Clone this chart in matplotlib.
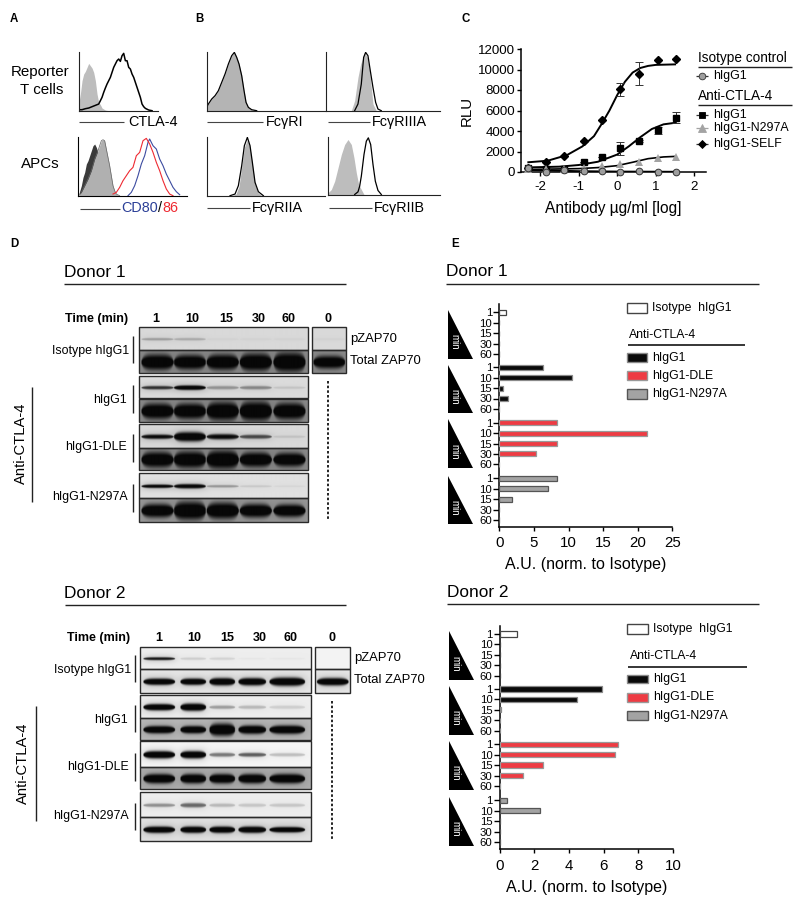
import numpy as np
import matplotlib
matplotlib.use("Agg")
import matplotlib.pyplot as plt
from matplotlib.patches import Polygon, Rectangle

plt.rcParams['font.family'] = ['Liberation Sans', 'DejaVu Sans']
W, H = 800, 902
fig = plt.figure(figsize=(8, 9.02), dpi=100)

# ---------- Panel A / B histograms (channel, count) ----------
ctla_iso_x = [0,5,10,15,20,25,30,35,40,45,50,55,60,65,70,75,80,90]
ctla_iso_y = [20,50,90,110,118,130,142,135,128,115,90,50,25,18,8,5,2,0]
ctla_x = [0,10,20,30,40,50,60,65,70,75,80,85,90,95,100,105,110,115,120,125,130,135,140,145,150,155,160,165,170,175,180,185,190,195,200,210,220]
ctla_y = [3,3,6,8,12,16,20,30,40,55,68,80,90,100,115,130,140,150,155,148,165,172,150,150,130,125,110,100,85,70,55,40,20,12,7,2,0]
apc_dark_x = [4,10,15,20,25,30,35,40,45,50,55,60,70,85]
apc_dark_y = [10,30,55,70,95,105,120,135,150,155,145,130,60,0]
apc_gray_x = [0,10,20,30,40,50,60,70,75,80,85,90,95,100,105,110,115,125]
apc_gray_y = [0,10,30,50,75,110,135,165,168,165,140,115,90,60,30,15,5,0]
cd86_x = [105,115,125,135,145,155,165,175,185,195,205,215,225,235,245,255,265,275,285]
cd86_y = [5,10,25,45,60,75,85,120,130,165,172,155,130,100,75,45,20,5,0]
cd80_x = [150,160,170,180,190,200,210,215,225,235,245,255,265,275,285,295,305]
cd80_y = [0,10,30,60,95,120,160,170,150,140,110,90,65,45,25,12,3]
fc1_x = [0,5,15,25,35,45,55,65,75,83,90,97,105,112,118,125,135,150]
fc1_y = [10,20,35,45,60,85,110,140,165,175,160,140,105,60,25,10,3,0]
fc3a_gray_x = [75,85,95,103,110,115,123,130,135,140,150]
fc3a_gray_y = [0,30,100,140,160,175,160,120,70,20,0]
fc3a_x = [85,95,105,112,118,125,132,140,148,155,165]
fc3a_y = [0,20,80,160,175,165,120,70,25,5,0]
fc2a_gray_x = [75,88,97,105,113,122,130,137,145,153,165]
fc2a_gray_y = [0,5,28,85,145,168,145,95,35,10,0]
fc2a_x = [70,85,95,105,113,122,130,137,145,155,170]
fc2a_y = [0,5,30,90,150,175,150,100,40,12,0]
fc2b_gray_x = [0,10,20,30,40,50,60,70,78,85,92,100,108]
fc2b_gray_y = [5,15,40,80,120,150,165,150,110,65,30,15,0]
fc2b_x = [80,90,95,100,108,115,121,128,135,142,150,160]
fc2b_y = [0,8,25,55,120,160,170,150,90,40,12,0]

# ---------- Panel C ----------
dose_pts = [-2.3,-1.83,-1.37,-0.85,-0.4,0.08,0.57,1.05,1.52]
self_pts = [400,950,1600,3000,5100,8050,9600,10900,11000]
self_err = [0,0,0,0,0,650,1100,0,0]
igg1_pts = [400,300,300,950,1500,2300,3000,4050,5300]
igg1_err = [0,0,0,0,0,600,100,300,550]
n297_pts = [300,250,300,350,550,750,1000,1400,1500]
iso_pts = [350,30,160,100,60,10,100,0,0]
self_fit_x = [-2.3,-1.8,-1.3,-0.9,-0.6,-0.4,-0.2,0,0.2,0.4,0.6,0.8,1,1.5]
self_fit_y = [950,1100,1650,2500,3500,4700,6000,7500,8800,9700,10150,10350,10450,10500]
igg1_fit_x = [-2.3,-1.5,-1,-0.5,0,0.3,0.6,0.9,1.2,1.5]
igg1_fit_y = [450,520,680,1000,1700,2500,3400,4200,4650,4800]
n297_fit_x = [-2.3,-1,-0.5,0,0.4,0.8,1.2,1.5]
n297_fit_y = [250,330,430,620,950,1300,1470,1520]
iso_fit_x = [-2.3,-1,0,1.5]
iso_fit_y = [200,80,40,20]
c_xticks = [-2,-1,0,1,2]
c_yticks = [0,2000,4000,6000,8000,10000,12000]

# ---------- Panel D blots: background level, band darkness, band thickness ----------
d1_bg = [.85,.55,.86,.55,.85,.55,.88,.6]
d1_dark = [[.25,.2,.03,.03,.03],[1,1,1,1,1],[.7,1,.3,.35,.1],[1,1,1,1,1],
           [.85,1,.85,.6,.1],[1,1,1,1,1],[.9,.9,.3,.1,.05],[1,1,1,1,1]]
d1_thick = [[2,2,2,2,2],[15,14,15,17,19],[3,4,3,3,2],[15,15,18,19,16],
            [4,9,5,3.5,2],[15,16,18,14,13],[3,4,2,1.5,1],[13,18,16,13,12]]
d2_bg = [.93,.9,.93,.72,.96,.68,.93,.88]
d2_dark = [[.8,.12,.1,.03,.03],[1,1,1,1,1],[1,1,.3,.2,.12],[1,1,1,1,1],
           [1,1,.45,.55,.2],[1,1,1,1,1],[.35,.5,.2,.15,.15],[1,1,1,1,1]]
d2_thick = [[2.5,2,2,1,1],[6,6,7,7,8],[6,7,3,3,3],[7,7,12,8,8],
            [7,7,3.5,3.5,3],[9,9,9,9,9],[3,4,3,3,3],[6,6,6,6,5]]
lane_labels = ['1','10','15','30','60']

# ---------- Panel E ----------
time_labels = ['1','10','15','30','60']
e1_iso = [0.9,0,0,0,0]
e1_igg1 = [6.3,10.5,0.6,1.2,0]
e1_dle = [8.3,21.3,8.4,5.3,0]
e1_n297 = [8.4,7.0,1.8,0,0]
e2_iso = [1.0,0,0,0,0]
e2_igg1 = [5.9,4.45,0.05,0,0]
e2_dle = [6.8,6.65,2.5,1.35,0]
e2_n297 = [0.45,2.35,0,0,0]
e_names = ['hIgG1','hIgG1-DLE','hIgG1-N297A']

# ---------- helpers ----------
def axpx(l, t, r, b):
    a = fig.add_axes([l/W, 1-b/H, (r-l)/W, (b-t)/H])
    a.patch.set_alpha(0)
    return a

ov = fig.add_axes([0, 0, 1, 1])
ov.set_xlim(0, W); ov.set_ylim(H, 0); ov.axis('off')

def txt(x, y, s, size=9, ha='left', va='center', **k):
    ov.text(x, y, s, fontsize=size, ha=ha, va=va, **k)

def ln(x0, y0, x1, y1, c='#222222', lw=0.9, **k):
    ov.plot([x0, x1], [y0, y1], color=c, lw=lw, solid_capstyle='butt', **k)

def hist(l, t, r, b, fills, lines, lc='#222222'):
    a = axpx(l, t, r, b)
    wz, hz = (r-l)*3, (b-t)*3
    a.set_xlim(0, wz); a.set_ylim(0, hz)
    for x, y, c in fills:
        a.fill_between(x, y, 0, color=c, lw=0)
    for x, y, c, w in lines:
        a.plot(x, y, color=c, lw=w)
    for s in ('top', 'right'):
        a.spines[s].set_visible(False)
    a.spines['left'].set_color(lc); a.spines['bottom'].set_color(lc)
    a.spines['left'].set_linewidth(.8); a.spines['bottom'].set_linewidth(.8)
    a.set_xticks([]); a.set_yticks([])
    return a

G = '#bdbdbd'
hist(78.7, 51.7, 158, 110.7, [(ctla_iso_x, ctla_iso_y, G)], [(ctla_x, ctla_y, 'black', 1.1)])
hist(78, 136.7, 187, 195.7,
     [(apc_dark_x, apc_dark_y, '#3a3a3a'), (apc_gray_x, apc_gray_y, '#b0b0b0')],
     [(apc_gray_x, apc_gray_y, '#666666', .5), (cd80_x, cd80_y, '#3c4ba0', .8), (cd86_x, cd86_y, '#ee2a32', .8)], lc='black')
hist(206.7, 51.7, 325, 110.7, [(fc1_x, fc1_y, '#b4b4b4')], [(fc1_x, fc1_y, 'black', .9)])
hist(326.3, 51.7, 440, 110.7, [(fc3a_gray_x, fc3a_gray_y, G)], [(fc3a_x, fc3a_y, 'black', .9)])
hist(206.7, 136.7, 325, 195.7, [(fc2a_gray_x, fc2a_gray_y, '#b4b4b4')], [(fc2a_x, fc2a_y, 'black', .9)])
hist(328, 136.7, 440, 194.5, [(fc2b_gray_x, fc2b_gray_y, G)], [(fc2b_x, fc2b_y, 'black', .9)])

# histogram captions
for x0, x1, y, tx, s in [(79.3,124,121.7,128,'CTLA-4'),(207,263,121.7,266,'Fc\u03b3RI'),
                         (327.7,370,121.7,372,'Fc\u03b3RIIIA'),(207,250,208,252,'Fc\u03b3RIIA'),
                         (329,371.7,208,374,'Fc\u03b3RIIB')]:
    ln(x0, y, x1, y, c='#444444', lw=.8)
    txt(tx, y, s, 10.4)
ln(80, 209, 120, 209, c='#444444', lw=.8)
txt(121, 208, 'CD80', 10.4, color='#2b3f97')
txt(158, 208, '/', 10.4)
txt(162, 208, '86', 10.4, color='#ee2a32')
txt(40, 72, 'Reporter', 10.9, ha='center')
txt(42, 90, 'T cells', 10.9, ha='center')
txt(40.7, 164, 'APCs', 10.9, ha='center')

for x, y, s in [(10,19.5,'A'),(195,19.5,'B'),(461,19.5,'C'),(10,244,'D'),(451,244,'E')]:
    txt(x, y, s, 8.3, fontweight='bold')

# ---------- Panel C ----------
ac = axpx(521, 49, 706, 172)
ac.set_xlim(-2.49, 2.3); ac.set_ylim(0, 12000)
for s in ('top', 'right'):
    ac.spines[s].set_visible(False)
for s in ('left', 'bottom'):
    ac.spines[s].set_linewidth(1.1); ac.spines[s].set_zorder(1)
ac.plot(self_fit_x, self_fit_y, color='black', lw=1.4)
ac.plot(igg1_fit_x, igg1_fit_y, color='black', lw=1.4)
ac.plot(n297_fit_x, n297_fit_y, color='black', lw=1.2)
ac.plot(iso_fit_x, iso_fit_y, color='black', lw=1.4)
ac.errorbar(dose_pts, self_pts, yerr=self_err, fmt='D', ms=4, color='black', ecolor='#333333', elinewidth=.7, capsize=3, capthick=.7, clip_on=False, zorder=5)
ac.errorbar(dose_pts, igg1_pts, yerr=igg1_err, fmt='s', ms=5, color='black', ecolor='#333333', elinewidth=.7, capsize=3, capthick=.7, clip_on=False, zorder=5)
ac.plot(dose_pts, n297_pts, '^', ms=5.5, color='#a3a3a3', mew=0, clip_on=False, zorder=6)
ac.plot(dose_pts, iso_pts, 'o', ms=4.8, mfc='#9e9e9e', mec='#333333', mew=.7, clip_on=False, zorder=7)
ac.set_xticks(c_xticks); ac.set_yticks(c_yticks)
ac.set_xticklabels(['-2','-1','0','1','2'])
ac.tick_params(labelsize=9.6, length=3, width=1, pad=1.5)
ac.tick_params(axis='x', pad=3.5)
ac.set_xlabel('Antibody \u00b5g/ml [log]', fontsize=11.2, labelpad=5.5)
ac.set_ylabel('RLU', fontsize=10.8, labelpad=3)

txt(698, 58, 'Isotype control', 9.8)
ln(698, 67, 792, 67, lw=1)
txt(698, 96, 'Anti-CTLA-4', 9.8)
ln(698, 105, 792, 105, lw=1)
for y, s, mk, ms, c in [(76,'hIgG1','o',4.8,'#9e9e9e'),(115,'hIgG1','s',4.8,'black'),
                        (128,'hIgG1-N297A','^',5.5,'#a3a3a3'),(144,'hIgG1-SELF','D',4,'black')]:
    ln(696, y, 708, y, c=c if mk == '^' else '#333333', lw=.9)
    ov.plot([702], [y], mk, ms=ms, mfc=c, mec='#333333' if mk == 'o' else c, mew=.6)
    txt(713, y, s, 8.9)

# ---------- Panel D ----------
def blot(l, t, r, b, bg, centers, dark, thick, hw, frac=.52):
    xs = np.arange(l, r, .5); ys = np.arange(t, b, .5)
    X, Y = np.meshgrid(xs, ys)
    img = np.full(X.shape, float(bg))
    yc = t + (b-t)*frac
    for c, d, th, w in zip(centers, dark, thick, hw):
        u = np.clip(np.abs(X-c)/(w+1.0), 0, 1)
        shape = (1-u**4)**.5                     # rounded band ends
        half = (th/2+.3)*np.maximum(shape, .05)
        core = np.exp(-np.abs((Y-yc)/half)**3)*(u < 1)
        halo = np.exp(-((X-c)/(w+2))**4)*np.exp(-((Y-yc)/(th/2+3))**2)*.18
        m = np.clip(d*core + d*halo, 0, 1)
        img = img*(1-m) + 0.03*m
    ov.imshow(img, cmap='gray', vmin=0, vmax=1, extent=[l, r, b, t], aspect='auto', zorder=1, interpolation='bilinear')
    ov.add_patch(Rectangle((l, t), r-l, b-t, fill=False, ec='#2a2a2a', lw=1.0, zorder=2))

def panel_d(fl, fr, rows, lanes, bg, dark, thick, zl, zr, zrows, zbg, zdark, zthick, hw):
    for i, (t, b) in enumerate(rows):
        blot(fl, t, fr, b, bg[i], lanes, dark[i], thick[i], hw)
    zc = (zl+zr)/2
    for i, (t, b) in enumerate(zrows):
        blot(zl, t, zr, b, zbg[i], [zc], [zdark[i]], [zthick[i]], [15])

d1_rows = [(327,350),(350,373),(376,398),(399,422),(424,448),(448,470),(473,498),(498,522)]
panel_d(138.5, 308, d1_rows, [156.7,189,221.7,254.7,288.3], d1_bg, d1_dark, d1_thick,
        312, 346, [(327,350),(350,373)], [.85,.55], [.03,1], [2,12], [15,15,15,15,15])
d2_rows = [(647,669),(669,693),(695,718),(718,740),(741,767),(767,789),(792,817),(817,841)]
panel_d(140, 311, d2_rows, [159,193,222,252,287], d2_bg, d2_dark, d2_thick,
        315, 350, [(647,669),(669,693)], [.95,.9], [0,1], [1,7], [15,12,12,13,17])
ov.set_xlim(0, W); ov.set_ylim(H, 0)

def d_labels(dx, head_y, head_ly, time_xy, lane_x, zero_x, pz_x, pz_y, tot_y, rx, rows, bar_x, bars,
             anti_x, anti_y0, anti_y1, antit_x, antit_y, dot_x, dot_y0, dot_y1, name):
    txt(dx, head_y, name, 12.4)
    ln(dx, head_ly, 346, head_ly, lw=1)
    txt(time_xy[0], time_xy[1], 'Time (min)', 9, fontweight='bold')
    for x, s in zip(lane_x, lane_labels):
        txt(x, time_xy[1], s, 9, ha='center', fontweight='bold')
    txt(zero_x, time_xy[1], '0', 9, ha='center', fontweight='bold')
    txt(pz_x, pz_y, 'pZAP70', 9.4)
    txt(pz_x, tot_y, 'Total ZAP70', 9.4)
    for (y, s), (b0, b1), r in zip(rows, bars, rx):
        txt(r, y, s, 8.9, ha='right')
        ln(bar_x, b0, bar_x, b1, lw=1)
    ln(anti_x, anti_y0, anti_x, anti_y1, lw=1)
    txt(antit_x, antit_y, 'Anti-CTLA-4', 10.6, ha='center', rotation=90)
    ov.plot([dot_x, dot_x], [dot_y0, dot_y1], color='#222222', lw=1.4, dashes=(1.3, 1.1))

d_labels(64, 272.7, 284.3, (65, 319), [156,192.3,226,258.3,289], 328, 350, 338.7, 361,
         [129.3,126.7,127.3,127.3],
         [(350.7,'Isotype hIgG1'),(400,'hIgG1'),(447.3,'hIgG1-DLE'),(496.7,'hIgG1-N297A')],
         133.3, [(336,363.3),(385,412.7),(434.3,461.7),(484,511.7)],
         32.3, 386.7, 501.7, 21, 443.3, 328.3, 381, 520.7, 'Donor 1')
d_labels(64.5, 593, 604.7, (66.7, 638.3), [158.3,194,227.7,260,291], 332.3, 354, 658.3, 680,
         [131.7,128.3,129,129],
         [(670,'Isotype hIgG1'),(720,'hIgG1'),(766.7,'hIgG1-DLE'),(816,'hIgG1-N297A')],
         135, [(655.3,682.3),(705,731.7),(753.3,780.7),(803.3,830)],
         35.7, 706, 820.7, 23.3, 763.3, 332, 701, 839.3, 'Donor 2')

# ---------- Panel E ----------
E_STYLE = [('white','#444444'),('#0a0a0a','#8a8a8a'),('#ee3b43','#999999'),('#a3a3a3','#555555')]

def panel_e(l, r, t, b, xlim, xticks, group_tops, step, series, tri_x, tri_tops, tri_h, name,
            head_x, head_y, head_ly, lg):
    a = axpx(l, t, r, b)
    a.set_xlim(0, xlim); a.set_ylim(b, t)
    pos, labs = [], []
    for g, s in zip(group_tops, series):
        ys = [g + i*step for i in range(5)]
        st = E_STYLE[series.index(s)]
        a.barh(ys, s, height=5.2, color=st[0], edgecolor=st[1], linewidth=.9, zorder=3)
        pos += ys; labs += time_labels
    a.set_yticks(pos); a.set_yticklabels(labs)
    a.set_xticks(xticks)
    for s in ('top','right'):
        a.spines[s].set_visible(False)
    for s in ('left','bottom'):
        a.spines[s].set_linewidth(1.1)
    a.tick_params(axis='y', labelsize=8.2, length=4.2, width=1, pad=1)
    a.tick_params(axis='x', labelsize=10.8, length=3.2, width=1, pad=3.5)
    a.set_xlabel('A.U. (norm. to Isotype)', fontsize=11.5, labelpad=5)
    for yt in tri_tops:
        ov.add_patch(Polygon([(tri_x, yt),(tri_x, yt+tri_h),(tri_x+24.7, yt+tri_h)], fc='black', ec='none'))
        txt(tri_x+6.2, yt+tri_h-16.5, 'min', 7, ha='center', color='white', rotation=270)
    txt(head_x, head_y, name, 12.4)
    ln(head_x, head_ly, 759.3, head_ly, lw=1)
    # legend
    bx0, bx1, it, at, lny, lx1, rows = lg
    ov.add_patch(Rectangle((bx0, it[0]), bx1-bx0, it[1]-it[0], fc='white', ec='#444444', lw=1))
    txt(bx1+5.3, sum(it)/2, 'Isotype  hIgG1', 8.8)
    txt(bx0+2.5, at, 'Anti-CTLA-4', 8.8)
    ln(bx0+1, lny, lx1, lny, c='black', lw=1.1)
    for (y0, y1), n, st in zip(rows, e_names, E_STYLE[1:]):
        ov.add_patch(Rectangle((bx0, y0), bx1-bx0, y1-y0, fc=st[0], ec=st[1], lw=1))
        txt(bx1+5.3, (y0+y1)/2, n, 8.8)

panel_e(499.3, 672.3, 304, 527, 25, [0,5,10,15,20,25], [312.3,367.3,422.7,478.3], 10.4,
        [e1_iso, e1_igg1, e1_dle, e1_n297], 448, [310,364.7,419.3,475.7], 48.7, 'Donor 1', 446, 271.7, 284,
        (626.7, 646.7, (302.7,312.7), 335, 345.3, 745, [(353.3,362),(371,380),(389,398.7)]))
panel_e(499.7, 673, 626, 849.3, 10, [0,2,4,6,8,10], [634,689,744.3,800.3], 10.4,
        [e2_iso, e2_igg1, e2_dle, e2_n297], 449, [631,685.7,740.7,796.7], 49, 'Donor 2', 446.7, 592.7, 604.3,
        (627, 648, (624,634), 656, 666.7, 746.5, [(674.7,683.3),(692.7,702),(711.3,720)]))

fig.savefig('out.png', dpi=100)
